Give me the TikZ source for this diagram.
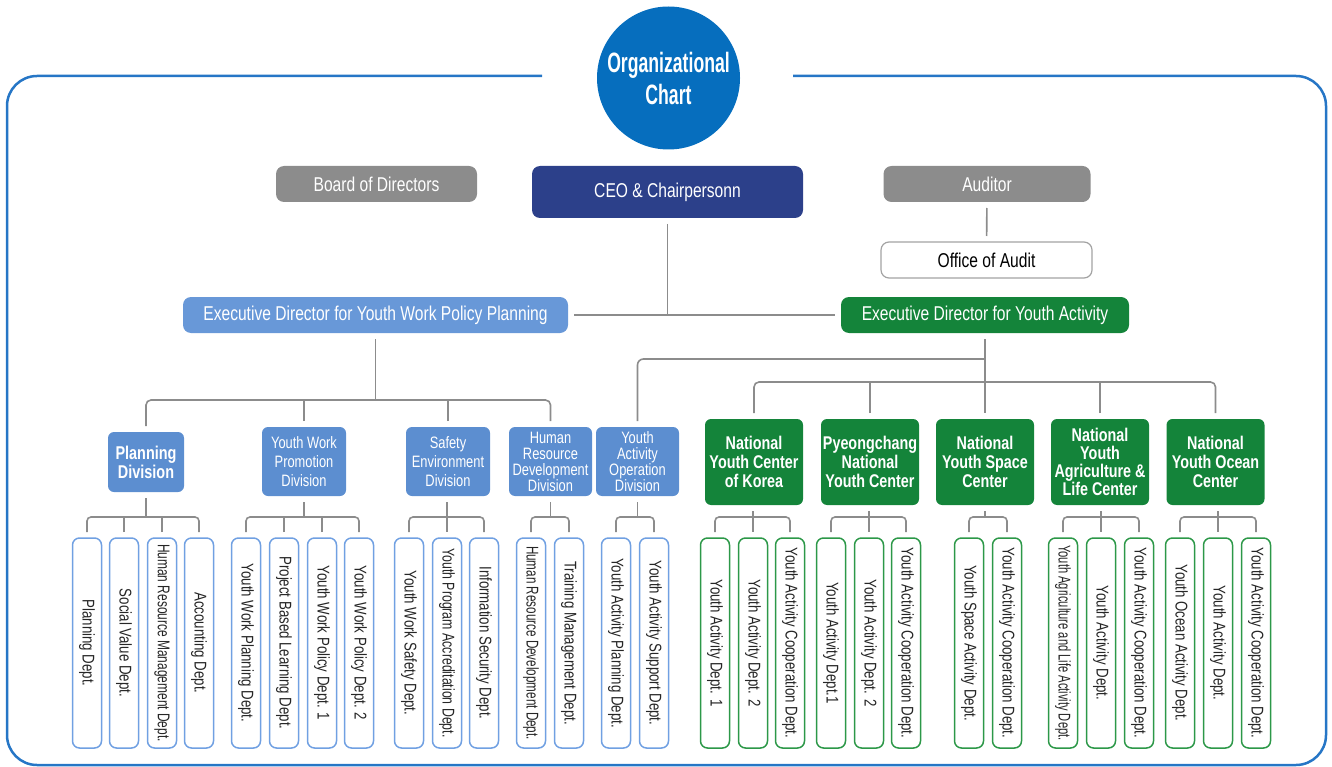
\documentclass[tikz,border=0pt]{standalone}
\usepackage{fontspec}
\setmainfont{Liberation Sans}[FakeStretch=0.78]
\newfontfamily\titlefont{Liberation Sans}[FakeStretch=0.63]
\usepackage{tikz}

\definecolor{frameblue}{RGB}{38,118,198}
\definecolor{titleblue}{RGB}{6,110,190}
\definecolor{ceonavy}{RGB}{44,64,138}
\definecolor{boxgray}{RGB}{140,140,140}
\definecolor{divblue}{RGB}{92,142,208}
\definecolor{execblue}{RGB}{104,152,216}
\definecolor{actgreen}{RGB}{20,132,58}
\definecolor{deptblue}{RGB}{112,160,226}
\definecolor{deptgreen}{RGB}{44,152,72}
\definecolor{linegray}{RGB}{140,140,140}

\tikzset{
  box/.style={rounded corners=8pt, inner sep=0pt, outer sep=6pt, text=white,
    minimum height=36pt, align=center, font=\fontsize{20}{22}\selectfont},
  graybox/.style={box, fill=boxgray},
  execbox/.style={box, minimum height=36pt},
  divbox/.style={box, fill=divblue, rounded corners=6pt, minimum width=84pt,
    minimum height=69pt, font=\fontsize{16.5}{19}\selectfont},
  centerbox/.style={box, fill=actgreen, rounded corners=6pt, minimum width=98pt,
    minimum height=86pt, font=\bfseries\fontsize{18.4}{19}\selectfont},
  dept/.style={draw=deptblue, line width=1.5pt, fill=white, rounded corners=7pt,
    rotate=-90, minimum width=210pt, minimum height=29pt, inner sep=1pt,
    outer sep=6pt, text=black!85, font=\fontsize{17}{19}\selectfont},
  gdept/.style={dept, draw=deptgreen},
  link/.style={draw=linegray, line width=1.6pt},
  frame/.style={draw=frameblue, line width=2.5pt, rounded corners=30pt}
}

\begin{document}
\begin{tikzpicture}[x=1pt, y=-1pt]
\useasboundingbox (0,0) rectangle (1332,767);

% outer frame and title
\draw[frame] (542,76) -| (7,765) -| (1326,76) -- (793,76);
\node[circle, fill=titleblue, minimum size=143pt, inner sep=0pt, text=white, align=center,
  font=\titlefont\bfseries\fontsize{28}{32}\selectfont] (title) at (668.5,78) {Organizational\\Chart};

% top level
\node[graybox, minimum width=201pt] (board) at (376.5,184) {Board of Directors};
\node[box, fill=ceonavy, minimum width=271pt, minimum height=52pt] (ceo) at (667.5,192) {CEO \& Chairpersonn};
\node[graybox, minimum width=207pt] (aud) at (987,184) {Auditor};
\node[box, draw=boxgray!80, line width=1.2pt, fill=white, text=black, minimum width=211pt] (office) at (986.5,260) {Office of Audit};
\node[execbox, fill=execblue, minimum width=385pt] (pol) at (375.5,315) {Executive Director for Youth Work Policy Planning};
\node[execbox, fill=actgreen, minimum width=288pt] (act) at (985,315) {Executive Director for Youth Activity};

\coordinate (pbus) at (0,400);
\coordinate (ybus) at (0,359);
\coordinate (gbus) at (0,382);
\coordinate (dbus) at (0,517);

% divisions
\node[divbox, minimum width=76pt, minimum height=60pt, font=\bfseries\fontsize{18.5}{19}\selectfont] (plan) at (146,462) {Planning\\Division};
\node[divbox] (prom) at (304,461.5) {Youth Work\\Promotion\\Division};
\node[divbox] (safe) at (448,461.5) {Safety\\Environment\\Division};
\node[divbox, minimum width=83pt, font=\fontsize{16.5}{16}\selectfont] (hrd) at (550.5,461.5) {Human\\Resource\\Development\\Division};
\node[divbox, minimum width=83pt, font=\fontsize{16.5}{16}\selectfont] (yao) at (637.5,461.5) {Youth\\Activity\\Operation\\Division};

% youth centers
\node[centerbox] (nyck) at (754,462) {National\\Youth Center\\of Korea};
\node[centerbox] (pyc) at (870,462) {Pyeongchang\\National\\Youth Center};
\node[centerbox] (space) at (985,462) {National\\Youth Space\\Center};
\node[centerbox, font=\bfseries\fontsize{18.4}{18}\selectfont] (agri) at (1100,462) {National\\Youth\\Agriculture \&\\Life Center};
\node[centerbox] (ocean) at (1215.5,462) {National\\Youth Ocean\\Center};

% departments
\node[dept] (plan1) at (87,643) {Planning Dept.};
\node[dept] (plan2) at (124,643) {Social Value Dept.};
\node[dept] (plan3) at (162,643) {\scalebox{0.9}[1]{Human Resource Management Dept.}};
\node[dept] (plan4) at (199,643) {Accounting Dept.};
\node[dept] (prom1) at (246,643) {Youth Work Planning Dept.};
\node[dept] (prom2) at (284,643) {Project Based Learning Dept.};
\node[dept] (prom3) at (322,643) {Youth Work Policy Dept. 1};
\node[dept] (prom4) at (359,643) {Youth Work Policy Dept. 2};
\node[dept] (safe1) at (409,643) {Youth Work Safety Dept.};
\node[dept] (safe2) at (447,643) {\scalebox{0.93}[1]{Youth Program Accreditation Dept.}};
\node[dept] (safe3) at (484,643) {Information Security Dept.};
\node[dept] (hrd1) at (531,643) {\scalebox{0.88}[1]{Human Resource Development Dept.}};
\node[dept] (hrd2) at (569,643) {Training Management Dept.};
\node[dept] (yao1) at (616,643) {Youth Activity Planning Dept.};
\node[dept] (yao2) at (654,643) {Youth Activity Support Dept.};
\node[gdept] (nyck1) at (715,643) {Youth Activity Dept. 1};
\node[gdept] (nyck2) at (753,643) {Youth Activity Dept. 2};
\node[gdept] (nyck3) at (790,643) {Youth Activity Cooperation Dept.};
\node[gdept] (pyc1) at (831,643) {Youth Activity Dept.1};
\node[gdept] (pyc2) at (869,643) {Youth Activity Dept. 2};
\node[gdept] (pyc3) at (906,643) {Youth Activity Cooperation Dept.};
\node[gdept] (space1) at (969,643) {Youth Space Activity Dept.};
\node[gdept] (space2) at (1007,643) {Youth Activity Cooperation Dept.};
\node[gdept] (agri1) at (1063,643) {\scalebox{0.84}[1]{Youth Agriculture and Life Activity Dept.}};
\node[gdept] (agri2) at (1101,643) {Youth Activity Dept.};
\node[gdept] (agri3) at (1139,643) {Youth Activity Cooperation Dept.};
\node[gdept] (ocean1) at (1180,643) {Youth Ocean Activity Dept.};
\node[gdept] (ocean2) at (1218,643) {Youth Activity Dept.};
\node[gdept] (ocean3) at (1256,643) {Youth Activity Cooperation Dept.};

% top connectors
\draw[link] (aud) -- (office);
\draw[link] (ceo.south) -- (ceo.south |- pol.east);
\draw[link] (pol.east) -- (act.west);

% policy planning side
\draw[link] (pol.south) -- (pol.south |- pbus);
\draw[link, rounded corners=5pt] (plan.north) |- (pbus -| hrd.north) -- (hrd.north);
\draw[link] (prom.north) -- (prom.north |- pbus) (safe.north) -- (safe.north |- pbus);

% youth activity side
\draw[link] (act.south) -- (space.north);
\draw[link, rounded corners=6pt] (act.south |- ybus) -| (yao.north);
\draw[link, rounded corners=5pt] (nyck.north) |- (gbus -| ocean.north) -- (ocean.north);
\draw[link] (pyc.north) -- (pyc.north |- gbus) (agri.north) -- (agri.north |- gbus);

% division to departments
\draw[link] (plan.south) -- (plan.south |- dbus);
\draw[link, rounded corners=4pt] (plan1.west) |- (dbus -| plan4.west) -- (plan4.west);
\draw[link] (plan2.west) -- (plan2.west |- dbus) (plan3.west) -- (plan3.west |- dbus);

\draw[link] (prom.south) -- (prom.south |- dbus);
\draw[link, rounded corners=4pt] (prom1.west) |- (dbus -| prom4.west) -- (prom4.west);
\draw[link] (prom2.west) -- (prom2.west |- dbus) (prom3.west) -- (prom3.west |- dbus);

\draw[link] (safe.south -| safe2.west) -- (safe2.west);
\draw[link, rounded corners=4pt] (safe1.west) |- (dbus -| safe3.west) -- (safe3.west);

\draw[link] (hrd.south) -- (hrd.south |- dbus);
\draw[link, rounded corners=4pt] (hrd1.west) |- (dbus -| hrd2.west) -- (hrd2.west);

\draw[link] (yao.south) -- (yao.south |- dbus);
\draw[link, rounded corners=4pt] (yao1.west) |- (dbus -| yao2.west) -- (yao2.west);

\draw[link] (nyck.south -| nyck2.west) -- (nyck2.west);
\draw[link, rounded corners=4pt] (nyck1.west) |- (dbus -| nyck3.west) -- (nyck3.west);

\draw[link] (pyc.south -| pyc2.west) -- (pyc2.west);
\draw[link, rounded corners=4pt] (pyc1.west) |- (dbus -| pyc3.west) -- (pyc3.west);

\draw[link] (space.south) -- (space.south |- dbus);
\draw[link, rounded corners=4pt] (space1.west) |- (dbus -| space2.west) -- (space2.west);

\draw[link] (agri.south -| agri2.west) -- (agri2.west);
\draw[link, rounded corners=4pt] (agri1.west) |- (dbus -| agri3.west) -- (agri3.west);

\draw[link] (ocean.south -| ocean2.west) -- (ocean2.west);
\draw[link, rounded corners=4pt] (ocean1.west) |- (dbus -| ocean3.west) -- (ocean3.west);
\end{tikzpicture}
\end{document}
